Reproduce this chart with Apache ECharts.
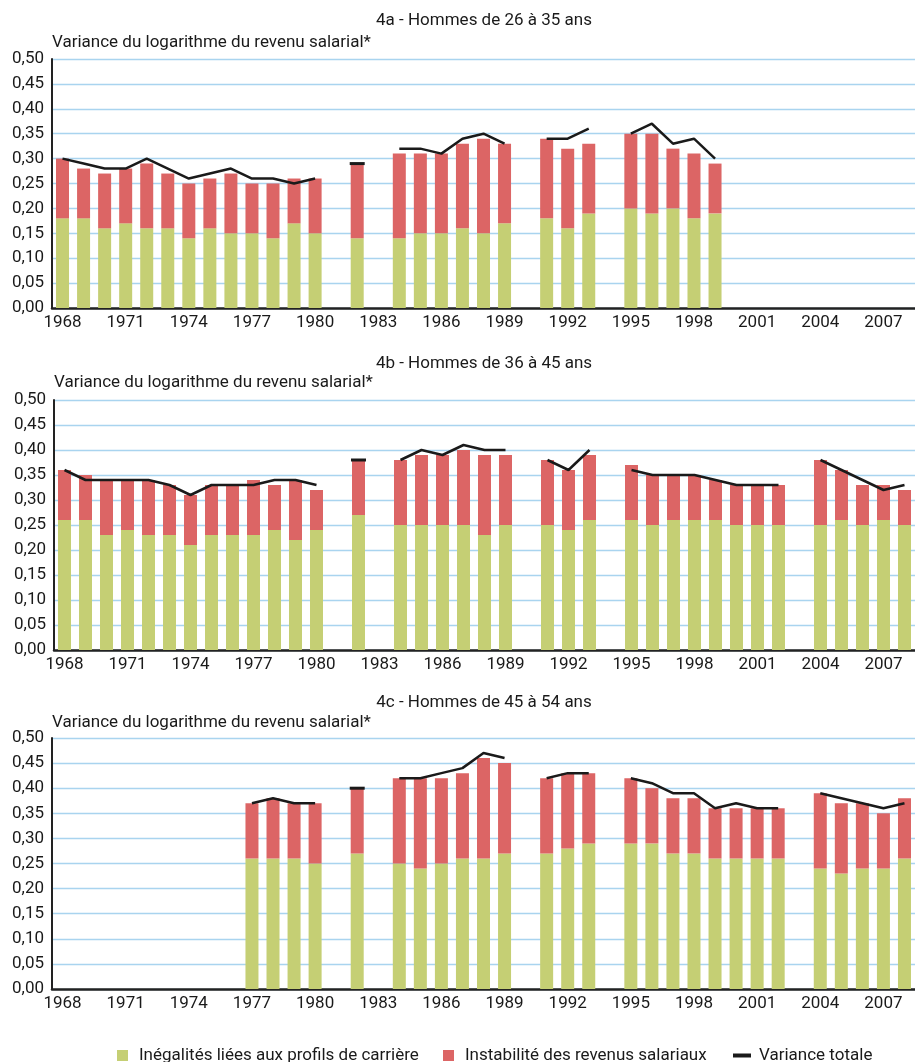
<!DOCTYPE html>
<html>
<head>
<meta charset="utf-8">
<script src="https://cdn.jsdelivr.net/npm/echarts@6/dist/echarts.min.js"></script>
<style>
  html, body { margin: 0; padding: 0; background: #ffffff; }
  #chart { width: 915px; height: 1062px; }
</style>
</head>
<body>
<div id="chart"></div>
<script>
// Years on the horizontal axis
const years = ['1968','1969','1970','1971','1972','1973','1974','1975','1976','1977',
  '1978','1979','1980','1981','1982','1983','1984','1985','1986','1987',
  '1988','1989','1990','1991','1992','1993','1994','1995','1996','1997',
  '1998','1999','2000','2001','2002','2003','2004','2005','2006','2007','2008'];

const panelTitles = ['4a - Hommes de 26 à 35 ans', '4b - Hommes de 36 à 45 ans', '4c - Hommes de 45 à 54 ans'];
const axisTitle = 'Variance du logarithme du revenu salarial*';
const seriesNames = ['Inégalités liées aux profils de carrière', 'Instabilité des revenus salariaux', 'Variance totale'];

// 4a - Hommes de 26 à 35 ans
const carriere4a = [0.18,0.18,0.16,0.17,0.16,0.16,0.14,0.16,0.15,0.15,0.14,0.17,0.15,null,0.14,null,
  0.14,0.15,0.15,0.16,0.15,0.17,null,0.18,0.16,0.19,null,0.20,0.19,0.20,0.18,0.19,
  null,null,null,null,null,null,null,null,null];
const instabilite4a = [0.12,0.10,0.11,0.11,0.13,0.11,0.11,0.10,0.12,0.10,0.11,0.09,0.11,null,0.15,null,
  0.17,0.16,0.16,0.17,0.19,0.16,null,0.16,0.16,0.14,null,0.15,0.16,0.12,0.13,0.10,
  null,null,null,null,null,null,null,null,null];
const total4a = [0.30,0.29,0.28,0.28,0.30,0.28,0.26,0.27,0.28,0.26,0.26,0.25,0.26,null,0.29,null,
  0.32,0.32,0.31,0.34,0.35,0.33,null,0.34,0.34,0.36,null,0.35,0.37,0.33,0.34,0.30,
  null,null,null,null,null,null,null,null,null];

// 4b - Hommes de 36 à 45 ans
const carriere4b = [0.26,0.26,0.23,0.24,0.23,0.23,0.21,0.23,0.23,0.23,0.24,0.22,0.24,null,0.27,null,
  0.25,0.25,0.25,0.25,0.23,0.25,null,0.25,0.24,0.26,null,0.26,0.25,0.26,0.26,0.26,
  0.25,0.25,0.25,null,0.25,0.26,0.25,0.26,0.25];
const instabilite4b = [0.10,0.09,0.11,0.10,0.11,0.10,0.10,0.10,0.10,0.11,0.09,0.12,0.08,null,0.11,null,
  0.13,0.14,0.14,0.15,0.16,0.14,null,0.13,0.12,0.13,null,0.11,0.10,0.09,0.09,0.08,
  0.08,0.08,0.08,null,0.13,0.10,0.08,0.07,0.07];
const total4b = [0.36,0.34,0.34,0.34,0.34,0.33,0.31,0.33,0.33,0.33,0.34,0.34,0.33,null,0.38,null,
  0.38,0.40,0.39,0.41,0.40,0.40,null,0.38,0.36,0.40,null,0.36,0.35,0.35,0.35,0.34,
  0.33,0.33,0.33,null,0.38,0.36,0.34,0.32,0.33];

// 4c - Hommes de 45 à 54 ans
const carriere4c = [null,null,null,null,null,null,null,null,null,0.26,0.26,0.26,0.25,null,0.27,null,
  0.25,0.24,0.25,0.26,0.26,0.27,null,0.27,0.28,0.29,null,0.29,0.29,0.27,0.27,0.26,
  0.26,0.26,0.26,null,0.24,0.23,0.24,0.24,0.26];
const instabilite4c = [null,null,null,null,null,null,null,null,null,0.11,0.12,0.11,0.12,null,0.13,null,
  0.17,0.18,0.17,0.17,0.20,0.18,null,0.15,0.15,0.14,null,0.13,0.11,0.11,0.11,0.10,
  0.10,0.10,0.10,null,0.15,0.14,0.13,0.11,0.12];
const total4c = [null,null,null,null,null,null,null,null,null,0.37,0.38,0.37,0.37,null,0.40,null,
  0.42,0.42,0.43,0.44,0.47,0.46,null,0.42,0.43,0.43,null,0.42,0.41,0.39,0.39,0.36,
  0.37,0.36,0.36,null,0.39,0.38,0.37,0.36,0.37];

const panels = [
  { carriere: carriere4a, instabilite: instabilite4a, total: total4a },
  { carriere: carriere4b, instabilite: instabilite4b, total: total4b },
  { carriere: carriere4c, instabilite: instabilite4c, total: total4c }
];

// Layout of the three stacked panels
const layout = [
  { left: 52, top: 59, height: 249, titleY: 21, nameGap: 16 },
  { left: 54, top: 400, height: 250, titleY: 364, nameGap: 17 },
  { left: 52, top: 738, height: 251, titleY: 703, nameGap: 15 }
];

const FONT = "Roboto, 'DejaVu Sans Condensed', sans-serif";
const FS = 17;
const TXT = '#1a1a1a';
const GREEN = '#c5cf74';
const RED = '#dc6565';
const LINE = '#1a1a1a';
const GRID = '#a9d4ef';

// A total that has no neighbour on either side is drawn as a short dash
function lineData(arr) {
  return arr.map((v, i) => {
    if (v == null) return null;
    const prev = i > 0 ? arr[i - 1] : null;
    const next = i < arr.length - 1 ? arr[i + 1] : null;
    if (prev == null && next == null) {
      return { value: v, symbol: 'rect', symbolSize: [15, 3] };
    }
    return v;
  });
}

const grids = [], xAxes = [], yAxes = [], series = [], graphics = [];

layout.forEach((L, k) => {
  grids.push({ left: L.left, right: 0, top: L.top, height: L.height, containLabel: false });
  xAxes.push({
    type: 'category', gridIndex: k, data: years, boundaryGap: true,
    axisLine: { show: true, lineStyle: { color: '#222222', width: 2.5 } },
    axisTick: { show: false },
    axisLabel: { interval: 2, margin: 6, color: TXT, fontFamily: FONT, fontSize: FS },
    splitLine: { show: false }
  });
  yAxes.push({
    type: 'value', gridIndex: k, min: 0, max: 0.5, interval: 0.05,
    name: axisTitle, nameLocation: 'end', nameGap: L.nameGap,
    nameTextStyle: { align: 'left', verticalAlign: 'middle', color: TXT, fontFamily: FONT, fontSize: FS },
    axisLine: { show: true, lineStyle: { color: '#222222', width: 2 } },
    axisTick: { show: false },
    axisLabel: {
      margin: 8, color: TXT, fontFamily: FONT, fontSize: FS,
      formatter: v => v.toFixed(2).replace('.', ',')
    },
    splitLine: { show: true, lineStyle: { color: GRID, width: 1.3 } }
  });
  const p = panels[k];
  series.push({
    name: seriesNames[0], type: 'bar', xAxisIndex: k, yAxisIndex: k, stack: 'p' + k,
    barWidth: 13, data: p.carriere, itemStyle: { color: GREEN }
  });
  series.push({
    name: seriesNames[1], type: 'bar', xAxisIndex: k, yAxisIndex: k, stack: 'p' + k,
    barWidth: 13, data: p.instabilite, itemStyle: { color: RED }
  });
  series.push({
    name: seriesNames[2], type: 'line', xAxisIndex: k, yAxisIndex: k,
    data: lineData(p.total), symbol: 'none', showSymbol: true, showAllSymbol: true,
    connectNulls: false, lineStyle: { color: LINE, width: 2.5 },
    itemStyle: { color: LINE }, z: 5
  });
  graphics.push({
    type: 'text', x: 484, y: L.titleY,
    style: { text: panelTitles[k], fill: TXT, font: FS + 'px ' + FONT, align: 'center', verticalAlign: 'middle' }
  });
});

const legendBase = {
  orient: 'horizontal', top: 1047, padding: 0, selectedMode: false,
  textStyle: { color: TXT, fontFamily: FONT, fontSize: FS }
};

const option = {
  animation: false,
  backgroundColor: '#ffffff',
  grid: grids,
  xAxis: xAxes,
  yAxis: yAxes,
  series: series,
  graphic: graphics,
  legend: [
    Object.assign({}, legendBase, {
      left: 117, itemWidth: 11, itemHeight: 11,
      data: [{ name: seriesNames[0], icon: 'rect' }],
      textStyle: Object.assign({}, legendBase.textStyle, { padding: [0, 0, 0, 6] })
    }),
    Object.assign({}, legendBase, {
      left: 443, itemWidth: 11, itemHeight: 11,
      data: [{ name: seriesNames[1], icon: 'rect' }],
      textStyle: Object.assign({}, legendBase.textStyle, { padding: [0, 0, 0, 6] })
    }),
    Object.assign({}, legendBase, {
      left: 733, itemWidth: 18, itemHeight: 4,
      data: [{ name: seriesNames[2], icon: 'rect' }],
      textStyle: Object.assign({}, legendBase.textStyle, { padding: [0, 0, 0, 3] })
    })
  ]
};

const chart = echarts.init(document.getElementById('chart'), null, { renderer: 'canvas' });
chart.setOption(option);
</script>
</body>
</html>
